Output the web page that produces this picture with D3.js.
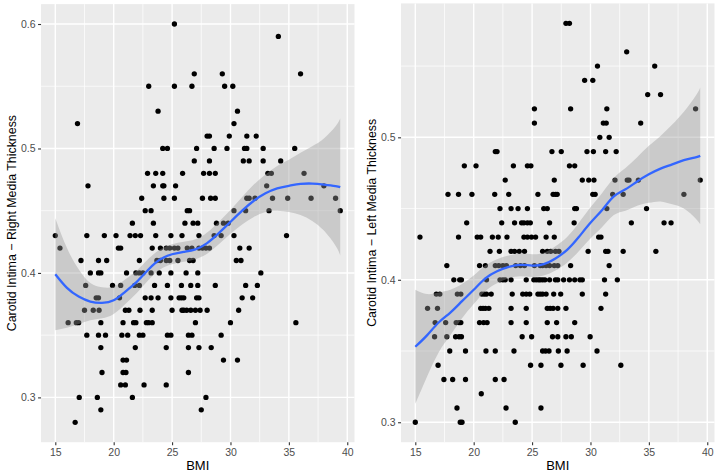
<!DOCTYPE html>
<html>
<head>
<meta charset="utf-8">
<script src="https://cdn.jsdelivr.net/npm/d3@7"></script>
<style>
  body { margin: 0; background: #fff; }
  text { font-family: "Liberation Sans", Arial, sans-serif; }
</style>
</head>
<body>
<div id="chart"></div>
<script>

// each row: [thickness, [BMI values at that thickness]]
var leftRows = [
  [0.60, [25.2]],
  [0.59, [34.1]],
  [0.56, [26.9, 29.3, 36.0]],
  [0.55, [23.0, 25.2, 26.7, 29.5, 30.2]],
  [0.53, [23.8, 30.6]],
  [0.52, [16.9, 30.3]],
  [0.51, [28.0, 28.2, 29.9, 31.4, 32.2]],
  [0.50, [24.2, 24.6, 27.1, 28.6, 29.7, 31.2, 31.4, 32.8, 35.5]],
  [0.49, [26.9, 28.2, 31.1, 31.6, 32.8, 34.3]],
  [0.48, [22.9, 23.6, 24.2, 25.9, 27.7, 28.2, 28.7, 33.2, 33.5, 36.3]],
  [0.47, [17.8, 23.4, 24.2, 24.3, 25.3, 33.1, 38.0]],
  [0.46, [22.4, 24.3, 25.2, 27.6, 28.3, 28.7, 31.4, 31.6, 32.1, 33.6, 34.9, 36.9, 39.0]],
  [0.45, [22.7, 23.2, 26.3, 26.5, 30.3, 31.3, 33.3, 39.4]],
  [0.44, [21.6, 23.4, 26.1, 26.8, 27.2, 28.8, 29.4, 29.8]],
  [0.43, [15.0, 17.7, 19.2, 20.2, 21.4, 21.85, 22.3, 23.6, 24.9, 25.85, 27.3, 28.6, 29.2, 30.3, 34.8]],
  [0.42, [15.4, 20.4, 20.6, 23.3, 24.0, 24.5, 24.8, 25.2, 25.5, 26.3, 26.7, 27.3, 27.6, 27.9, 28.2, 30.8, 31.6]],
  [0.41, [17.2, 18.7, 19.4, 22.2, 23.7, 24.0, 24.5, 24.8, 25.5, 26.5, 26.8, 30.5, 30.9]],
  [0.40, [18.0, 18.7, 18.9, 21.1, 21.9, 22.2, 22.5, 23.2, 23.9, 24.9, 26.2, 27.2, 32.6]],
  [0.39, [17.6, 19.9, 20.6, 21.8, 22.2, 23.5, 24.6, 25.8, 26.6, 27.2, 28.7, 31.3, 32.3]],
  [0.38, [18.5, 18.7, 20.5, 22.7, 23.2, 23.8, 24.9, 25.6, 25.8, 26.0, 27.1, 27.3, 31.0, 31.9]],
  [0.37, [17.5, 18.25, 18.75, 21.0, 21.3, 22.25, 23.3, 25.0, 25.85, 26.0, 26.25, 26.6, 27.0, 27.4, 28.0, 30.7]],
  [0.36, [16.1, 16.8, 17.0, 18.9, 20.8, 21.7, 21.9, 22.8, 23.0, 23.3, 27.0, 30.0, 35.6]],
  [0.35, [17.7, 18.7, 19.3, 20.7, 21.2, 22.2, 22.5, 24.6, 24.9, 26.4, 26.7, 29.2]],
  [0.34, [18.9, 21.85, 24.5, 26.4, 27.3, 28.35]],
  [0.33, [20.8, 21.1, 29.4, 30.6]],
  [0.32, [19.0, 20.8, 21.05, 26.4]],
  [0.31, [20.6, 21.0, 22.6, 24.5]],
  [0.30, [17.05, 18.6, 21.6, 27.9]],
  [0.29, [18.9, 27.5]],
  [0.28, [16.7]]
];

var rightRows = [
  [0.58, [27.9, 28.2]],
  [0.56, [33.1]],
  [0.55, [30.6, 35.5]],
  [0.54, [29.5, 30.2]],
  [0.53, [34.9, 36.0]],
  [0.52, [25.2, 28.3, 31.4, 39.0]],
  [0.51, [25.2, 31.1, 31.35, 34.3]],
  [0.50, [30.8, 31.6]],
  [0.49, [21.85, 22.0, 26.7, 27.5, 29.7, 30.25, 31.3, 32.2]],
  [0.48, [19.2, 20.2, 23.4, 24.6, 24.9, 28.2, 28.65]],
  [0.47, [22.7, 26.9, 29.3, 29.85, 30.3, 32.1, 33.15, 33.3, 34.1, 39.4]],
  [0.46, [17.8, 18.7, 19.85, 21.8, 23.0, 25.5, 26.8, 27.0, 27.15, 30.2, 30.4, 31.9, 32.8, 38.0]],
  [0.45, [22.25, 23.2, 23.8, 24.6, 26.0, 26.3, 28.65, 28.8, 31.4, 34.8]],
  [0.44, [19.4, 22.4, 23.5, 24.1, 24.3, 24.6, 24.85, 26.5, 28.6, 33.5, 36.3, 36.9]],
  [0.43, [15.4, 18.7, 20.3, 20.6, 21.6, 22.1, 22.85, 24.3, 24.6, 24.95, 25.3, 26.2, 26.9, 30.7, 30.9]],
  [0.42, [21.4, 22.2, 23.2, 23.5, 23.9, 24.35, 25.9, 26.3, 26.6, 27.0, 27.3, 29.8, 31.3, 31.5, 32.8, 35.6]],
  [0.41, [17.7, 20.5, 21.0, 21.85, 22.15, 22.5, 22.8, 23.6, 24.0, 24.35, 25.2, 25.7, 25.9, 26.2, 26.5, 26.9, 27.2, 28.3, 31.6]],
  [0.40, [18.3, 18.8, 18.95, 21.1, 22.25, 22.5, 22.7, 23.2, 24.5, 25.15, 25.35, 25.55, 25.7, 25.9, 26.1, 26.5, 27.0, 27.2, 27.7, 28.2, 28.65, 29.1, 29.3, 31.2, 32.3]],
  [0.39, [16.8, 17.1, 18.6, 18.9, 20.7, 20.9, 21.1, 21.5, 23.3, 24.2, 24.5, 24.8, 25.5, 25.7, 25.9, 26.2, 26.85, 27.45, 29.3, 31.3]],
  [0.38, [16.05, 16.9, 20.6, 20.8, 21.0, 21.3, 23.2, 24.5, 26.3, 26.55, 26.8, 27.2, 27.9, 30.9]],
  [0.37, [16.7, 17.6, 18.5, 18.75, 18.9, 20.5, 20.85, 21.15, 23.2, 24.5, 26.3, 27.1, 28.65]],
  [0.36, [16.65, 17.7, 18.45, 18.75, 18.95, 24.15, 24.96, 26.75, 27.2, 27.9, 28.36, 29.97]],
  [0.35, [17.95, 19.3, 21.05, 21.85, 23.45, 25.9, 26.15, 26.45, 27.25, 28.0, 30.56]],
  [0.34, [16.95, 24.87, 25.76, 27.47, 29.37, 32.6]],
  [0.33, [17.45, 18.2, 19.3, 21.85, 22.6]],
  [0.32, [20.65]],
  [0.31, [18.57, 22.77, 25.76]],
  [0.30, [15.0, 18.85, 19.0, 23.56]]
];

// loess fit (fit and half width of the grey band)
var fitBMI    = [15, 16, 17, 18, 19, 20, 21, 22, 23, 24, 25, 26, 27, 28, 29, 30, 31, 32, 33, 34, 35, 36, 37, 38, 39, 39.4];
var leftFit   = [0.399, 0.388, 0.381, 0.377, 0.376, 0.378, 0.385, 0.393, 0.403, 0.411, 0.415, 0.417, 0.419, 0.424, 0.432, 0.441, 0.450, 0.458, 0.464, 0.468, 0.470, 0.4715, 0.4718, 0.471, 0.4698, 0.469];
var leftBand  = [0.045, 0.032, 0.022, 0.015, 0.0125, 0.011, 0.010, 0.009, 0.0085, 0.008, 0.008, 0.008, 0.008, 0.0085, 0.009, 0.0095, 0.011, 0.013, 0.015, 0.018, 0.021, 0.025, 0.030, 0.037, 0.048, 0.055];
var rightFit  = [0.353, 0.361, 0.370, 0.377, 0.385, 0.393, 0.401, 0.406, 0.409, 0.4105, 0.410, 0.411, 0.415, 0.421, 0.430, 0.440, 0.449, 0.4585, 0.4635, 0.469, 0.474, 0.478, 0.481, 0.484, 0.486, 0.487];
var rightBand = [0.040, 0.029, 0.021, 0.016, 0.012, 0.010, 0.009, 0.0085, 0.008, 0.008, 0.008, 0.008, 0.0085, 0.009, 0.010, 0.011, 0.012, 0.013, 0.015, 0.017, 0.020, 0.023, 0.028, 0.034, 0.043, 0.048];

var xTicks = [15, 20, 25, 30, 35, 40],
    xMinor = [17.5, 22.5, 27.5, 32.5, 37.5];

var svg = d3.select("#chart")
  .append("svg")
    .attr("width", 720)
    .attr("height", 476);

drawPanel = function(rows, fit, band, spec){
  var x = d3.scaleLinear()
      .domain([13.78, 40.62])
      .range([spec.left, spec.right]);
  var y = d3.scaleLinear()
      .domain(spec.yDomain)
      .range([442.2, spec.top]);

  var g = svg.append("g");

  g.append("rect")
      .attr("x", spec.left)
      .attr("y", spec.top)
      .attr("width", spec.right - spec.left)
      .attr("height", 442.2 - spec.top)
      .attr("fill", "#EBEBEB");

  // grid: minor first, then major
  g.selectAll(".xminor").data(xMinor).enter().append("line")
      .attr("x1", x).attr("x2", x)
      .attr("y1", spec.top).attr("y2", 442.2)
      .attr("stroke", "#fff").attr("stroke-width", 0.7);
  g.selectAll(".yminor").data(spec.yMinor).enter().append("line")
      .attr("y1", y).attr("y2", y)
      .attr("x1", spec.left).attr("x2", spec.right)
      .attr("stroke", "#fff").attr("stroke-width", 0.7);
  g.selectAll(".xmajor").data(xTicks).enter().append("line")
      .attr("x1", x).attr("x2", x)
      .attr("y1", spec.top).attr("y2", 442.2)
      .attr("stroke", "#fff").attr("stroke-width", 1.4);
  g.selectAll(".ymajor").data(spec.yTicks).enter().append("line")
      .attr("y1", y).attr("y2", y)
      .attr("x1", spec.left).attr("x2", spec.right)
      .attr("stroke", "#fff").attr("stroke-width", 1.4);

  // points
  var pts = [];
  rows.forEach(function(r){
    r[1].forEach(function(b){ pts.push({bmi: b, v: r[0]}); });
  });

  g.append("g").selectAll("circle")
      .data(pts).enter().append("circle")
      .attr("cx", function(d){ return x(d.bmi); })
      .attr("cy", function(d){ return y(d.v); })
      .attr("r", 2.65)
      .attr("fill", "#000");

  // smooth + band
  var fd = fitBMI.map(function(b, i){
    return {bmi: b, m: fit[i], lo: fit[i] - band[i], hi: fit[i] + band[i]};
  });

  g.append("path")
      .datum(fd)
      .attr("fill", "#999999")
      .attr("fill-opacity", 0.4)
      .attr("d", d3.area()
        .curve(d3.curveNatural)
        .x(function(d){ return x(d.bmi); })
        .y0(function(d){ return y(d.lo); })
        .y1(function(d){ return y(d.hi); }));

  g.append("path")
      .datum(fd)
      .attr("fill", "none")
      .attr("stroke", "#3366FF")
      .attr("stroke-width", 2.3)
      .attr("d", d3.line()
        .curve(d3.curveNatural)
        .x(function(d){ return x(d.bmi); })
        .y(function(d){ return y(d.m); }));

  // axes
  var ax = g.append("g")
      .attr("transform", "translate(0,442.2)")
      .call(d3.axisBottom(x).tickValues(xTicks).tickSize(3).tickPadding(3));
  var ay = g.append("g")
      .attr("transform", "translate(" + spec.left + ",0)")
      .call(d3.axisLeft(y).tickValues(spec.yTicks).tickSize(3).tickPadding(2.5)
        .tickFormat(d3.format(".1f")));

  [ax, ay].forEach(function(a){
    a.select(".domain").remove();
    a.selectAll(".tick line").attr("stroke", "#333333").attr("stroke-width", 1.1);
    a.selectAll(".tick text")
        .attr("fill", "#4D4D4D")
        .style("font-size", "10.5px")
        .style("font-family", "'Liberation Sans', Arial, sans-serif");
  });

  g.append("text")
      .attr("x", (spec.left + spec.right) / 2)
      .attr("y", 470)
      .attr("text-anchor", "middle")
      .style("font-size", "13px")
      .attr("fill", "#000")
      .text("BMI");

  g.append("text")
      .attr("transform", "translate(" + spec.titleX + "," + ((spec.top + 442.2) / 2) + ") rotate(-90)")
      .attr("text-anchor", "middle")
      .style("font-size", "12.4px")
      .attr("fill", "#000")
      .text(spec.title);
}

drawPanel(leftRows, leftFit, leftBand, {
  left: 41.05, right: 354.5, top: 4.1,
  yDomain: [0.264, 0.616],
  yTicks: [0.3, 0.4, 0.5, 0.6],
  yMinor: [0.35, 0.45, 0.55],
  titleX: 16,
  title: "Carotid Intima \u2212 Right Media Thickness"
});

drawPanel(rightRows, rightFit, rightBand, {
  left: 401.05, right: 714.5, top: 3.4,
  yDomain: [0.286, 0.594],
  yTicks: [0.3, 0.4, 0.5],
  yMinor: [0.35, 0.45, 0.55],
  titleX: 376,
  title: "Carotid Intima \u2212 Left Media Thickness"
});

</script>
</body>
</html>
